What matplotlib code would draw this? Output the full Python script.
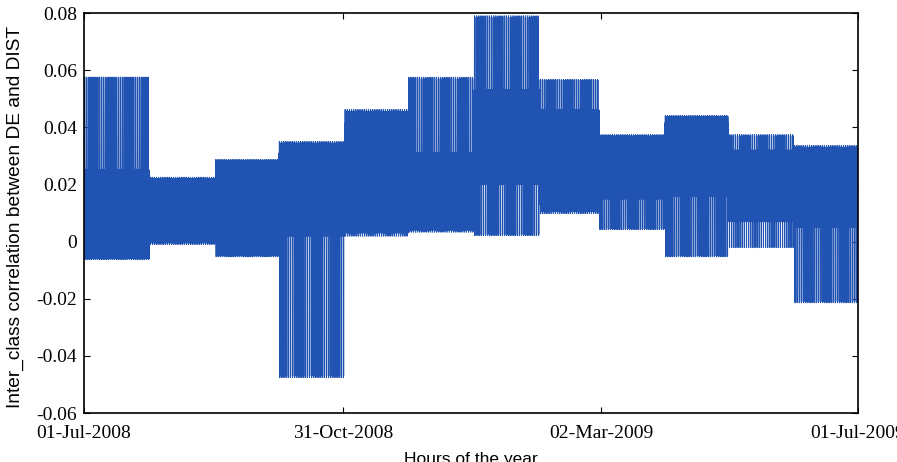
import numpy as np
import pandas as pd
import matplotlib
matplotlib.use("Agg")
import matplotlib.pyplot as plt

# ---- data: 24-hour profile of each month (value repeated every day of that month)
months = ["Jul-2008", "Aug-2008", "Sep-2008", "Oct-2008", "Nov-2008", "Dec-2008",
          "Jan-2009", "Feb-2009", "Mar-2009", "Apr-2009", "May-2009", "Jun-2009"]
days_in_month = [31, 31, 30, 31, 30, 31, 31, 28, 31, 30, 31, 30]

jul = [0.012, 0.024, 0.001, 0.025, 0.0575, 0.022, 0.002, 0.0575, 0.020, 0.001, -0.0063, 0.022,
       0.000, 0.024, 0.003, 0.025, 0.001, 0.025, 0.002, 0.021, -0.0060, 0.024, 0.000, 0.010]
aug = [0.012, 0.021, 0.007, 0.020, 0.0225, 0.011, 0.006, 0.021, -0.0010, 0.020, 0.007, 0.021,
       0.005, 0.0215, 0.008, 0.0220, 0.006, 0.020, 0.007, 0.021, -0.0005, 0.021, 0.007, 0.013]
sep = [0.014, 0.027, 0.003, 0.026, 0.0287, 0.015, 0.002, 0.027, -0.0053, 0.026, 0.003, 0.027,
       0.004, 0.0265, 0.003, 0.0285, 0.002, 0.026, 0.003, 0.027, -0.0050, 0.027, 0.003, 0.013]
oct_ = [0.016, 0.031, 0.003, 0.030, 0.0350, 0.017, 0.002, 0.031, -0.0476, 0.004, -0.0470, 0.031,
        0.004, 0.032, 0.003, 0.0345, 0.002, 0.030, 0.003, 0.031, 0.002, 0.031, 0.003, 0.015]
nov = [0.025, 0.041, 0.009, 0.040, 0.0462, 0.024, 0.008, 0.0415, 0.0019, 0.040, 0.009, 0.0416,
       0.010, 0.041, 0.009, 0.0455, 0.008, 0.040, 0.009, 0.0416, 0.0030, 0.041, 0.0085, 0.022]
dec = [0.018, 0.031, 0.008, 0.030, 0.0575, 0.029, 0.009, 0.0570, 0.0033, 0.030, 0.009, 0.031,
       0.008, 0.030, 0.009, 0.031, 0.008, 0.031, 0.009, 0.030, 0.0040, 0.031, 0.008, 0.017]
jan = [0.035, 0.053, 0.020, 0.052, 0.0790, 0.050, 0.054, 0.0785, 0.0021, 0.021, 0.0025, 0.053,
       0.020, 0.052, 0.021, 0.053, 0.020, 0.053, 0.021, 0.052, 0.020, 0.053, 0.021, 0.034]
feb = [0.028, 0.046, 0.013, 0.045, 0.0567, 0.044, 0.013, 0.0565, 0.0098, 0.045, 0.013, 0.046,
       0.0125, 0.045, 0.013, 0.046, 0.012, 0.046, 0.013, 0.045, 0.0105, 0.046, 0.013, 0.027]
mar = [0.024, 0.035, 0.015, 0.034, 0.0374, 0.025, 0.015, 0.035, 0.0042, 0.016, 0.034, 0.0045,
       0.015, 0.034, 0.016, 0.0370, 0.015, 0.035, 0.016, 0.034, 0.016, 0.035, 0.015, 0.023]
apr = [0.028, 0.0416, 0.016, 0.041, 0.0441, 0.027, 0.016, 0.0416, -0.0053, 0.017, 0.041, -0.0050,
       0.016, 0.041, 0.017, 0.0438, 0.016, 0.0416, 0.017, 0.041, 0.017, 0.0416, 0.016, 0.029]
may = [0.012, 0.032, 0.007, 0.016, 0.0374, 0.015, 0.0370, 0.008, 0.031, 0.007, -0.0021, 0.016,
       0.007, 0.015, 0.032, 0.008, 0.016, 0.007, 0.031, 0.008, 0.016, 0.007, 0.015, 0.010]
jun = [0.018, 0.0305, 0.006, 0.030, 0.0336, 0.017, 0.005, 0.0305, -0.0214, 0.006, 0.030, -0.0210,
       0.005, 0.030, 0.006, 0.0330, 0.005, 0.0305, 0.006, 0.030, 0.006, 0.0305, 0.005, 0.019]
monthly_profiles = [jul, aug, sep, oct_, nov, dec, jan, feb, mar, apr, may, jun]

tick_dates = ["01-Jul-2008", "31-Oct-2008", "02-Mar-2009", "01-Jul-2009"]
y_ticks = [-0.06, -0.04, -0.02, 0, 0.02, 0.04, 0.06, 0.08]
y_ticklabels = ["-0.06", "-0.04", "-0.02", "0", "0.02", "0.04", "0.06", "0.08"]

# ---- build hourly series (each month's profile repeated for each of its days)
series = np.concatenate([np.tile(p, d) for p, d in zip(monthly_profiles, days_in_month)])
hours = np.arange(series.size)

start = pd.Timestamp("2008-07-01")
tick_pos = [(pd.to_datetime(t, format="%d-%b-%Y") - start) / pd.Timedelta(hours=1)
            for t in tick_dates]

# ---- figure
fig = plt.figure(figsize=(8.97, 4.62), dpi=100)
ax = fig.add_axes([84 / 897, 1 - 413 / 462, 774 / 897, 400 / 462])

ax.plot(hours, series, color="#2154b2", linewidth=0.8, antialiased=True)

ax.set_xlim(0, tick_pos[-1])
ax.set_ylim(-0.06, 0.08)
ax.set_xticks(tick_pos)
ax.set_xticklabels(tick_dates, family="Liberation Serif", fontsize=14)
ax.set_yticks(y_ticks)
ax.set_yticklabels(y_ticklabels, family="Liberation Serif", fontsize=14)

ax.tick_params(direction="in", length=4, width=0.8, top=True, right=True,
               colors="black")
ax.tick_params(axis="x", pad=9)
ax.tick_params(axis="y", pad=5)
for s in ax.spines.values():
    s.set_linewidth(1.2)

ax.set_ylabel("Inter_class correlation between DE and DIST",
              family="Liberation Sans", fontsize=13.8)
ax.yaxis.set_label_coords(-0.078, 0.49)
ax.set_xlabel("Hours of the year", family="Liberation Sans", fontsize=12.5)
ax.xaxis.set_label_coords(0.5, -0.098)

fig.savefig("out.png", dpi=100)
